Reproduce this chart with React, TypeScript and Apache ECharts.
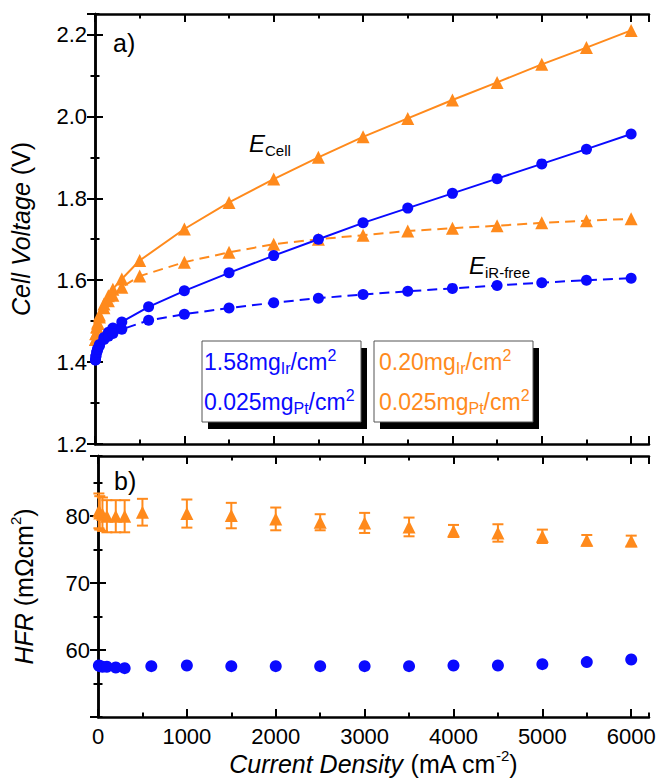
import React, { useEffect, useRef } from "react";
import * as echarts from "echarts";

const BLUE = "#0a0aff";
const ORANGE = "#ff8a1c";
const FONT = '"Liberation Sans", Arial, Helvetica, sans-serif';

// ---- Panel a) : cell voltage vs current density ----
const orangeJ = [5, 10, 20, 30, 50, 100, 150, 200, 300, 500, 1000, 1500, 2000, 2500, 3000, 3500, 4000, 4500, 5000, 5500, 6000];
const orangeCell = [1.455, 1.47, 1.487, 1.497, 1.515, 1.542, 1.562, 1.578, 1.603, 1.648, 1.725, 1.79, 1.847, 1.9, 1.95, 1.995, 2.04, 2.083, 2.127, 2.168, 2.21];
const orangeIRFree = [1.455, 1.469, 1.485, 1.494, 1.51, 1.533, 1.55, 1.563, 1.583, 1.61, 1.644, 1.668, 1.688, 1.7, 1.71, 1.72, 1.727, 1.733, 1.74, 1.745, 1.75];

const blueJ = [5, 10, 20, 30, 50, 100, 150, 200, 300, 600, 1000, 1500, 2000, 2500, 3000, 3500, 4000, 4500, 5000, 5500, 6000];
const blueCell = [1.405, 1.415, 1.425, 1.433, 1.443, 1.46, 1.473, 1.483, 1.498, 1.535, 1.574, 1.618, 1.66, 1.7, 1.74, 1.776, 1.812, 1.848, 1.884, 1.92, 1.957];
const blueIRFree = [1.405, 1.414, 1.424, 1.431, 1.44, 1.455, 1.463, 1.47, 1.48, 1.502, 1.517, 1.532, 1.545, 1.556, 1.565, 1.573, 1.58, 1.587, 1.594, 1.6, 1.605];

// ---- Panel b) : HFR ----
const orangeHfrJ = [10, 20, 50, 100, 200, 300, 500, 1000, 1500, 2000, 2500, 3000, 3500, 4000, 4500, 5000, 5500, 6000];
const orangeHfr = [80.8, 80.5, 80.3, 80.0, 80.0, 80.0, 80.6, 80.4, 80.1, 79.6, 79.1, 79.0, 78.4, 77.8, 77.5, 77.0, 76.4, 76.3];
const orangeHfrErr = [2.6, 2.5, 2.5, 2.4, 2.4, 2.4, 2.0, 2.1, 1.9, 1.7, 1.2, 1.5, 1.4, 0.9, 1.3, 1.0, 0.8, 0.8];

const blueHfrJ = [10, 20, 50, 100, 200, 300, 600, 1000, 1500, 2000, 2500, 3000, 3500, 4000, 4500, 5000, 5500, 6000];
const blueHfr = [57.7, 57.6, 57.5, 57.5, 57.4, 57.3, 57.6, 57.7, 57.6, 57.6, 57.6, 57.6, 57.6, 57.7, 57.7, 57.9, 58.2, 58.6];

const zip2 = (a: number[], b: number[]) => a.map((v, i) => [v, b[i]]);
const zip3 = (a: number[], b: number[], c: number[]) => a.map((v, i) => [v, b[i], c[i]]);

const TICK = { color: "#000", width: 2 };
const LINE = { show: true, lineStyle: { color: "#000", width: 2.5 } };

function axis(gridIndex: number, position: string, min: number, max: number, interval: number, major: boolean, extra: any = {}) {
  return {
    type: "value",
    gridIndex,
    position,
    min,
    max,
    interval,
    axisLine: major ? LINE : { show: false },
    axisTick: { show: true, inside: true, length: major ? 8 : 4.5, lineStyle: TICK },
    axisLabel: { show: false },
    splitLine: { show: false },
    ...extra,
  };
}

const labelStyle = { color: "#000", fontFamily: FONT, fontSize: 22 };
const nameRich = {
  i: { fontFamily: FONT, fontSize: 25, fontStyle: "italic", color: "#000", lineHeight: 32 },
  n: { fontFamily: FONT, fontSize: 25, color: "#000", lineHeight: 32 },
  sup: { fontFamily: FONT, fontSize: 15, color: "#000", lineHeight: 15, verticalAlign: "top" },
};

function legendRich(color: string) {
  return {
    n: { fontFamily: FONT, fontSize: 23, fill: color, lineHeight: 29 },
    sub: { fontFamily: FONT, fontSize: 16, fill: color, lineHeight: 16, verticalAlign: "bottom" },
    sup: { fontFamily: FONT, fontSize: 16, fill: color, lineHeight: 16, verticalAlign: "top" },
  };
}

export default function App() {
  const ref = useRef<HTMLDivElement>(null);
  useEffect(() => {
    const chart = echarts.init(ref.current!, null, { renderer: "svg" });
    const errorRender = (params: any, api: any) => {
      const x = api.value(0);
      const y = api.value(1);
      const e = api.value(2);
      const top = api.coord([x, y + e]);
      const bot = api.coord([x, y - e]);
      const hw = 5.5;
      const style = { stroke: ORANGE, lineWidth: 2, fill: "none" };
      return {
        type: "group",
        children: [
          { type: "line", shape: { x1: top[0], y1: top[1], x2: bot[0], y2: bot[1] }, style },
          { type: "line", shape: { x1: top[0] - hw, y1: top[1], x2: top[0] + hw, y2: top[1] }, style },
          { type: "line", shape: { x1: bot[0] - hw, y1: bot[1], x2: bot[0] + hw, y2: bot[1] }, style },
        ],
      };
    };

    const option: any = {
      animation: false,
      backgroundColor: "#fff",
      grid: [
        { left: 95, top: 14, width: 554, height: 430 },
        { left: 95, top: 456, width: 554, height: 261 },
      ],
      xAxis: [
        axis(0, "bottom", 0, 6200, 1000, true),
        axis(0, "bottom", 0, 6200, 500, false),
        axis(0, "top", 0, 6200, 1000, true),
        axis(0, "top", 0, 6200, 500, false),
        axis(1, "bottom", 0, 6200, 1000, true, {
          axisLabel: { show: true, margin: 8, showMaxLabel: false, formatter: (v: number) => String(v), ...labelStyle },
          name: "{i|Current Density} {n|(mA cm}{sup|-2}{n|)}",
          nameLocation: "middle",
          nameGap: 26,
          nameTextStyle: { rich: nameRich, fontFamily: FONT, fontSize: 25, color: "#000" },
        }),
        axis(1, "bottom", 0, 6200, 500, false),
        axis(1, "top", 0, 6200, 1000, true),
        axis(1, "top", 0, 6200, 500, false),
      ],
      yAxis: [
        axis(0, "left", 1.2, 2.25, 0.2, true, {
          axisLabel: { show: true, margin: 8, showMaxLabel: false, formatter: (v: number) => v.toFixed(1), ...labelStyle },
          name: "{i|Cell Voltage} {n|(V)}",
          nameLocation: "middle",
          nameGap: 58,
          nameTextStyle: { rich: nameRich, fontFamily: FONT, fontSize: 25, color: "#000" },
        }),
        axis(0, "left", 1.2, 2.25, 0.1, false),
        axis(0, "right", 1.2, 2.25, 0.2, true),
        axis(0, "right", 1.2, 2.25, 0.1, false),
        axis(1, "left", 50, 89, 10, true, {
          axisLabel: { show: true, margin: 8, showMaxLabel: false, showMinLabel: false, ...labelStyle },
          name: "{i|HFR} {n|(mΩcm}{sup|2}{n|)}",
          nameLocation: "middle",
          nameGap: 58,
          nameTextStyle: { rich: nameRich, fontFamily: FONT, fontSize: 25, color: "#000" },
        }),
        axis(1, "left", 50, 89, 5, false),
        axis(1, "right", 50, 89, 10, true),
        axis(1, "right", 50, 89, 5, false),
      ],
      series: [
        {
          type: "line", xAxisIndex: 0, yAxisIndex: 0, clip: false,
          data: zip2(orangeJ, orangeCell),
          symbol: "triangle", symbolSize: 13,
          itemStyle: { color: ORANGE, opacity: 1 },
          lineStyle: { color: ORANGE, width: 2 },
        },
        {
          type: "line", xAxisIndex: 0, yAxisIndex: 0, clip: false,
          data: zip2(orangeJ, orangeIRFree),
          symbol: "triangle", symbolSize: 13,
          itemStyle: { color: ORANGE, opacity: 1 },
          lineStyle: { color: ORANGE, width: 2, type: [10, 6] },
        },
        {
          type: "line", xAxisIndex: 0, yAxisIndex: 0, clip: false,
          data: zip2(blueJ, blueCell),
          symbol: "circle", symbolSize: 11,
          itemStyle: { color: BLUE, opacity: 1 },
          lineStyle: { color: BLUE, width: 2 },
        },
        {
          type: "line", xAxisIndex: 0, yAxisIndex: 0, clip: false,
          data: zip2(blueJ, blueIRFree),
          symbol: "circle", symbolSize: 11,
          itemStyle: { color: BLUE, opacity: 1 },
          lineStyle: { color: BLUE, width: 2, type: [10, 6] },
        },
        {
          type: "custom", xAxisIndex: 4, yAxisIndex: 4, clip: false,
          data: zip3(orangeHfrJ, orangeHfr, orangeHfrErr),
          encode: { x: 0, y: 1 },
          renderItem: errorRender,
        },
        {
          type: "scatter", xAxisIndex: 4, yAxisIndex: 4, clip: false,
          data: zip2(orangeHfrJ, orangeHfr),
          symbol: "triangle", symbolSize: 13,
          itemStyle: { color: ORANGE, opacity: 1 },
        },
        {
          type: "scatter", xAxisIndex: 4, yAxisIndex: 4, clip: false,
          data: zip2(blueHfrJ, blueHfr),
          symbol: "circle", symbolSize: 12,
          itemStyle: { color: BLUE, opacity: 1 },
        },
      ],
      graphic: [
        { type: "text", left: 113, top: 30, style: { text: "a)", fontFamily: FONT, fontSize: 25, fill: "#000" } },
        { type: "text", left: 114, top: 468, style: { text: "b)", fontFamily: FONT, fontSize: 25, fill: "#000" } },
        {
          type: "text", left: 249, top: 131,
          style: {
            text: "{e|E}{s|Cell}",
            rich: {
              e: { fontFamily: FONT, fontSize: 24, fontStyle: "italic", fill: "#000", lineHeight: 30 },
              s: { fontFamily: FONT, fontSize: 15, fill: "#000", lineHeight: 15, verticalAlign: "bottom" },
            },
          },
        },
        {
          type: "text", left: 469, top: 253,
          style: {
            text: "{e|E}{s|iR-free}",
            rich: {
              e: { fontFamily: FONT, fontSize: 24, fontStyle: "italic", fill: "#000", lineHeight: 30 },
              s: { fontFamily: FONT, fontSize: 15, fill: "#000", lineHeight: 15, verticalAlign: "bottom" },
            },
          },
        },
        // legend boxes with drop shadows
        { type: "rect", z: 10, shape: { x: 208, y: 348, width: 159, height: 81 }, style: { fill: "#000" } },
        { type: "rect", z: 11, shape: { x: 202, y: 341, width: 159, height: 81 }, style: { fill: "#fff", stroke: "#555", lineWidth: 1 } },
        { type: "rect", z: 10, shape: { x: 380, y: 348, width: 159, height: 81 }, style: { fill: "#000" } },
        { type: "rect", z: 11, shape: { x: 374, y: 341, width: 159, height: 81 }, style: { fill: "#fff", stroke: "#555", lineWidth: 1 } },
        { type: "text", z: 12, left: 204, top: 347, style: { text: "{n|1.58mg}{sub|Ir}{n|/cm}{sup|2}", rich: legendRich(BLUE) } },
        { type: "text", z: 12, left: 204, top: 387, style: { text: "{n|0.025mg}{sub|Pt}{n|/cm}{sup|2}", rich: legendRich(BLUE) } },
        { type: "text", z: 12, left: 379, top: 347, style: { text: "{n|0.20mg}{sub|Ir}{n|/cm}{sup|2}", rich: legendRich(ORANGE) } },
        { type: "text", z: 12, left: 379, top: 387, style: { text: "{n|0.025mg}{sub|Pt}{n|/cm}{sup|2}", rich: legendRich(ORANGE) } },
      ],
    };
    chart.setOption(option);
    return () => chart.dispose();
  }, []);
  return <div ref={ref} style={{ position: "fixed", left: 0, top: 0, width: 660, height: 780 }} />;
}
